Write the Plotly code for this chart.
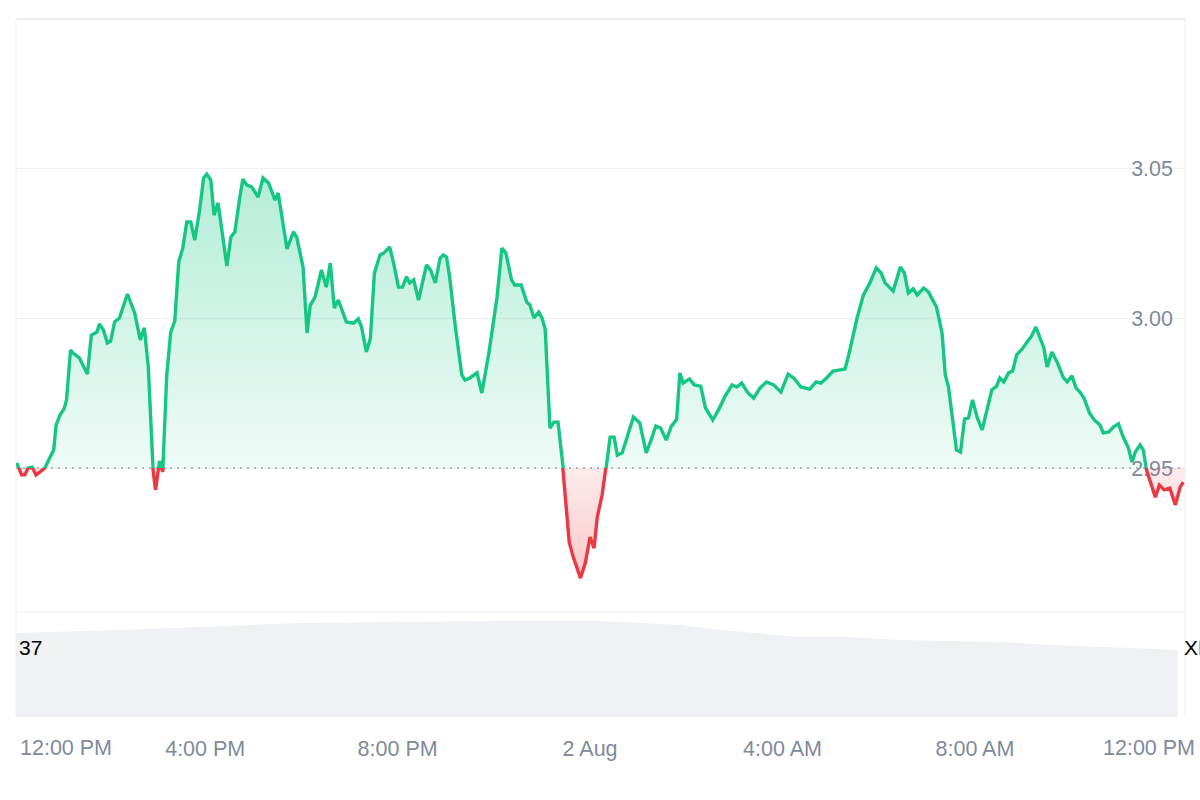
import plotly.graph_objects as go

# ---------------- data ----------------
DAY1 = "2025-08-01"
DAY2 = "2025-08-02"

times_day1 = [
    "12:05", "12:11", "12:15", "12:19", "12:24", "12:29", "12:34", "12:40", "12:46", "12:51",
    "12:54", "12:59", "13:04", "13:07", "13:12", "13:15", "13:23", "13:33", "13:38", "13:45",
    "13:48", "13:53", "13:58", "14:02", "14:07", "14:13", "14:23", "14:32", "14:39", "14:44",
    "14:49", "14:51", "14:55", "14:58", "15:03", "15:07", "15:12", "15:17", "15:22", "15:27",
    "15:32", "15:37", "15:42", "15:47", "15:53", "15:58", "16:02", "16:07", "16:11", "16:16",
    "16:22", "16:27", "16:32", "16:37", "16:43", "16:47", "16:52", "16:58", "17:06", "17:12",
    "17:19", "17:27", "17:31", "17:42", "17:50", "17:54", "18:02", "18:07", "18:11", "18:17",
    "18:25", "18:31", "18:36", "18:41", "18:46", "18:56", "19:05", "19:11", "19:15", "19:21",
    "19:26", "19:31", "19:38", "19:43", "19:50", "19:55", "20:01", "20:06", "20:11", "20:15",
    "20:20", "20:26", "20:36", "20:41", "20:47", "20:53", "20:57", "21:01", "21:05", "21:12",
    "21:20", "21:24", "21:30", "21:39", "21:45", "21:54", "22:04", "22:10", "22:15", "22:22",
    "22:26", "22:34", "22:41", "22:45", "22:50", "22:56", "23:00", "23:04", "23:10", "23:15",
    "23:20", "23:26", "23:34", "23:39", "23:48", "23:54",
]
prices_day1 = [
    2.9517, 2.9477, 2.9477, 2.9500, 2.9503, 2.9477, 2.9487, 2.9500, 2.9533, 2.9560,
    2.9643, 2.9677, 2.9697, 2.9727, 2.9893, 2.9883, 2.9867, 2.9813, 2.9943, 2.9953,
    2.9980, 2.9960, 2.9917, 2.9923, 2.9987, 3.0000, 3.0080, 3.0017, 2.9927, 2.9967,
    2.9837, 2.9717, 2.9493, 2.9427, 2.9523, 2.9487, 2.9810, 2.9953, 2.9990, 3.0187,
    3.0233, 3.0320, 3.0320, 3.0260, 3.0360, 3.0467, 3.0480, 3.0460, 3.0343, 3.0383,
    3.0260, 3.0173, 3.0270, 3.0287, 3.0400, 3.0463, 3.0443, 3.0437, 3.0403, 3.0467,
    3.0450, 3.0393, 3.0417, 3.0230, 3.0287, 3.0270, 3.0170, 2.9950, 3.0043, 3.0070,
    3.0160, 3.0103, 3.0183, 3.0033, 3.0060, 2.9987, 2.9983, 2.9997, 2.9970, 2.9887,
    2.9933, 3.0150, 3.0210, 3.0217, 3.0237, 3.0183, 3.0103, 3.0103, 3.0137, 3.0117,
    3.0127, 3.0060, 3.0177, 3.0160, 3.0117, 3.0200, 3.0210, 3.0203, 3.0133, 2.9970,
    2.9810, 2.9793, 2.9800, 2.9817, 2.9750, 2.9887, 3.0070, 3.0233, 3.0217, 3.0127,
    3.0110, 3.0110, 3.0053, 3.0043, 3.0000, 3.0020, 3.0000, 2.9963, 2.9633, 2.9653,
    2.9653, 2.9500, 2.9253, 2.9203, 2.9133, 2.9183,
]
times_day2 = [
    "00:00", "00:05", "00:09", "00:15", "00:20", "00:25", "00:30", "00:34", "00:40", "00:47",
    "00:54", "01:02", "01:10", "01:16", "01:22", "01:28", "01:35", "01:41", "01:48", "01:52",
    "01:56", "02:04", "02:10", "02:18", "02:24", "02:33", "02:40", "02:48", "02:57", "03:03",
    "03:09", "03:17", "03:24", "03:32", "03:40", "03:49", "03:58", "04:07", "04:14", "04:23",
    "04:34", "04:42", "04:48", "04:55", "05:03", "05:12", "05:18", "05:22", "05:33", "05:41",
    "05:49", "05:57", "06:03", "06:08", "06:18", "06:27", "06:32", "06:37", "06:43", "06:48",
    "06:56", "07:02", "07:12", "07:19", "07:23", "07:27", "07:37", "07:42", "07:47", "07:52",
    "07:57", "08:03", "08:09", "08:21", "08:27", "08:31", "08:36", "08:42", "08:47", "08:52",
    "08:59", "09:05", "09:10", "09:16", "09:21", "09:26", "09:30", "09:36", "09:43", "09:50",
    "09:55", "10:01", "10:06", "10:11", "10:16", "10:23", "10:29", "10:36", "10:40", "10:47",
    "10:53", "10:59", "11:05", "11:11", "11:16", "11:20", "11:26", "11:30", "11:34", "11:39",
    "11:45", "11:50", "11:56", "12:03", "12:10", "12:16", "12:20",
]
prices_day2 = [
    2.9270, 2.9233, 2.9337, 2.9410, 2.9500, 2.9603, 2.9603, 2.9543, 2.9550, 2.9610,
    2.9670, 2.9650, 2.9550, 2.9593, 2.9640, 2.9633, 2.9593, 2.9637, 2.9663, 2.9817,
    2.9783, 2.9797, 2.9777, 2.9773, 2.9700, 2.9660, 2.9693, 2.9737, 2.9777, 2.9770,
    2.9783, 2.9750, 2.9733, 2.9767, 2.9787, 2.9777, 2.9753, 2.9813, 2.9800, 2.9770,
    2.9763, 2.9787, 2.9783, 2.9800, 2.9823, 2.9827, 2.9830, 2.9870, 3.0000, 3.0077,
    3.0117, 3.0167, 3.0150, 3.0117, 3.0090, 3.0170, 3.0150, 3.0083, 3.0097, 3.0077,
    3.0100, 3.0087, 3.0037, 2.9950, 2.9810, 2.9770, 2.9560, 2.9553, 2.9663, 2.9667,
    2.9727, 2.9667, 2.9627, 2.9760, 2.9773, 2.9800, 2.9787, 2.9817, 2.9823, 2.9877,
    2.9897, 2.9920, 2.9937, 2.9970, 2.9937, 2.9900, 2.9837, 2.9887, 2.9850, 2.9803,
    2.9787, 2.9807, 2.9767, 2.9753, 2.9733, 2.9683, 2.9660, 2.9643, 2.9617, 2.9620,
    2.9637, 2.9647, 2.9603, 2.9570, 2.9520, 2.9553, 2.9577, 2.9560, 2.9493, 2.9453,
    2.9403, 2.9443, 2.9427, 2.9433, 2.9377, 2.9437, 2.9453,
]

BASELINE = 2.95  # reference (opening) price, dotted line

volume_times = [
    "2025-08-01 12:04", "2025-08-01 12:59", "2025-08-01 14:14", "2025-08-01 15:54",
    "2025-08-01 17:58", "2025-08-01 20:03", "2025-08-01 22:08", "2025-08-02 00:12",
    "2025-08-02 01:52", "2025-08-02 02:42", "2025-08-02 04:22", "2025-08-02 05:24",
    "2025-08-02 06:27", "2025-08-02 08:31", "2025-08-02 09:34", "2025-08-02 11:14",
    "2025-08-02 12:13",
]
volumes = [84, 85, 87, 90, 94, 95, 96, 96, 92, 87, 80, 80, 77, 75, 72, 69, 67]

tick_times = ["2025-08-01 16:00", "2025-08-01 20:00", "2025-08-02 00:00",
              "2025-08-02 04:00", "2025-08-02 08:00"]
tick_labels = ["4:00 PM", "8:00 PM", "2 Aug", "4:00 AM", "8:00 AM"]
edge_label = "12:00 PM"

price_ticks = [2.95, 3.00, 3.05]
price_tick_labels = ["2.95", "3.00", "3.05"]

# ---------------- build ----------------
times = [f"{DAY1} {t}" for t in times_day1] + [f"{DAY2} {t}" for t in times_day2]
prices = prices_day1 + prices_day2

X_START, X_END = "2025-08-01 12:04", "2025-08-02 12:22"
Y_MIN, Y_MAX = 2.902, 3.09967

GREEN = "#16c784"
RED = "#ea3943"
GRAY = "#808a9d"
FONT = "Liberation Sans, Arial, sans-serif"
LINE_W = 3.4

W, H = 1200, 800
def px(x):
    return x / W
def py(y):
    return 1 - y / H

XD0, XD1 = px(16), px(1185)
P_TOP, P_BASE, P_BOT, V_BOT = py(19), py(468), py(612), py(717)

fig = go.Figure()

# dotted baseline (grid axis)
fig.add_trace(go.Scatter(
    x=[X_START, X_END], y=[BASELINE, BASELINE], mode="lines",
    line=dict(color="#9ea4b0", width=1.5, dash="2px,5px"),
    xaxis="x", yaxis="y", hoverinfo="skip"))

# green part (clipped above baseline)
fig.add_trace(go.Scatter(
    x=times, y=prices, mode="lines",
    line=dict(color=GREEN, width=LINE_W),
    fill="tozeroy",
    fillgradient=dict(type="vertical", start=BASELINE, stop=3.05,
                      colorscale=[[0, "rgba(22,199,132,0.07)"], [1, "rgba(22,199,132,0.33)"]]),
    xaxis="x", yaxis="y2", hoverinfo="skip"))

# red part (clipped below baseline)
fig.add_trace(go.Scatter(
    x=[X_START, X_END], y=[BASELINE, BASELINE], mode="lines",
    line=dict(width=0, color="rgba(0,0,0,0)"),
    xaxis="x", yaxis="y3", hoverinfo="skip"))
fig.add_trace(go.Scatter(
    x=times, y=prices, mode="lines",
    line=dict(color=RED, width=LINE_W),
    fill="tonexty",
    fillgradient=dict(type="vertical", start=2.912, stop=BASELINE,
                      colorscale=[[0, "rgba(234,57,67,0.28)"], [1, "rgba(234,57,67,0.10)"]]),
    xaxis="x", yaxis="y3", hoverinfo="skip"))

# volume
fig.add_trace(go.Scatter(
    x=volume_times, y=volumes, mode="lines",
    line=dict(width=0, color="#eff1f4"),
    fill="tozeroy", fillcolor="#eff1f4",
    xaxis="x", yaxis="y4", hoverinfo="skip"))

tickfont = dict(family=FONT, size=21.5, color=GRAY)

fig.update_layout(
    width=W, height=H,
    margin=dict(l=0, r=0, t=0, b=0),
    paper_bgcolor="white", plot_bgcolor="rgba(0,0,0,0)",
    showlegend=False,
    xaxis=dict(type="date", domain=[XD0, XD1], range=[X_START, X_END], anchor="y4",
               tickmode="array", tickvals=tick_times, ticktext=tick_labels,
               showgrid=False, zeroline=False, showline=False, ticks="",
               tickfont=tickfont, ticklabelstandoff=16),
    yaxis=dict(domain=[P_BOT, P_TOP], range=[Y_MIN, Y_MAX], anchor="x", side="right",
               tickmode="array", tickvals=price_ticks, ticktext=price_tick_labels,
               ticklabelposition="inside", ticklabelstandoff=9, ticks="",
               showgrid=True, gridcolor="#eff1f3", gridwidth=1,
               zeroline=False, showline=False, tickfont=tickfont),
    yaxis2=dict(domain=[P_BASE, P_TOP], range=[BASELINE, Y_MAX], anchor="x", visible=False),
    yaxis3=dict(domain=[P_BOT, P_BASE], range=[Y_MIN, BASELINE], anchor="x", visible=False),
    yaxis4=dict(domain=[V_BOT, P_BOT], range=[0, 105], anchor="x", visible=False),
    shapes=[
        dict(type="line", xref="paper", yref="paper", x0=XD0, x1=XD1, y0=P_TOP, y1=P_TOP,
             line=dict(color="#e4e6e9", width=1.5), layer="below"),
        dict(type="line", xref="paper", yref="paper", x0=XD0, x1=XD1, y0=P_BOT, y1=P_BOT,
             line=dict(color="#eef0f2", width=1), layer="below"),
        dict(type="line", xref="paper", yref="paper", x0=XD0, x1=XD0, y0=V_BOT, y1=P_TOP,
             line=dict(color="#f0f1f3", width=1), layer="below"),
        dict(type="line", xref="paper", yref="paper", x0=XD1, x1=XD1, y0=V_BOT, y1=P_TOP,
             line=dict(color="#eceef1", width=1), layer="below"),
    ],
    annotations=[
        dict(text=edge_label, xref="paper", yref="paper", x=px(18), y=py(748),
             xanchor="left", yanchor="middle", showarrow=False, font=tickfont),
        dict(text=edge_label, xref="paper", yref="paper", x=px(1197), y=py(748),
             xanchor="right", yanchor="middle", showarrow=False, font=tickfont),
        dict(text="37", xref="paper", yref="paper", x=px(17), y=py(647),
             xanchor="left", yanchor="middle", showarrow=False,
             font=dict(family=FONT, size=21, color="#000000")),
        dict(text="XRP", xref="paper", yref="paper", x=px(1182), y=py(647),
             xanchor="left", yanchor="middle", showarrow=False,
             font=dict(family=FONT, size=21, color="#000000")),
    ],
)

fig.write_html("out.html")
